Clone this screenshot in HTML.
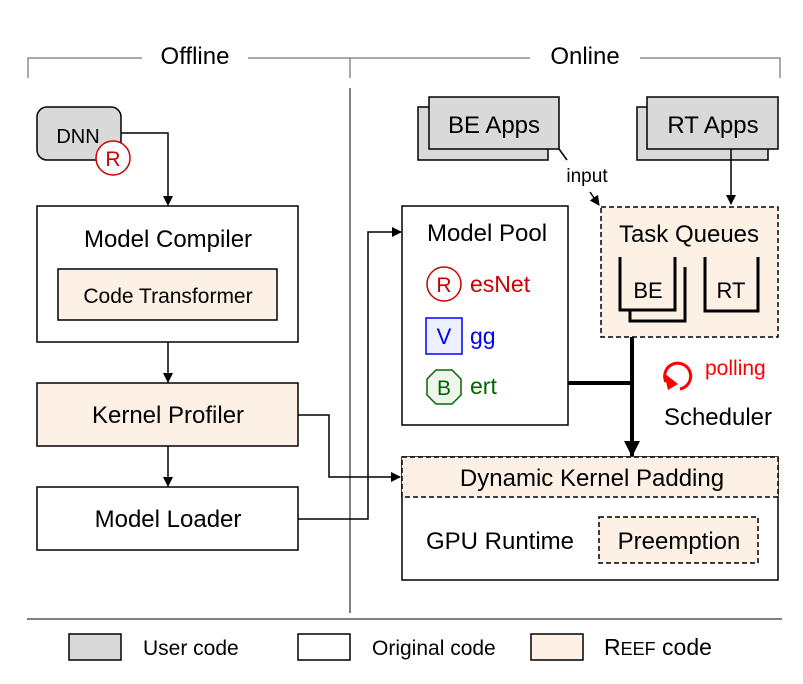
<!DOCTYPE html>
<html><head><style>
html,body{margin:0;padding:0;background:#fff;}
svg{display:block;}
text{font-family:"Liberation Sans","DejaVu Sans",sans-serif;fill:#000;}
</style></head><body>
<svg width="803" height="684" viewBox="0 0 803 684" xmlns="http://www.w3.org/2000/svg">
<defs>
<marker id="a" markerWidth="10" markerHeight="10" refX="9" refY="5" orient="auto" markerUnits="userSpaceOnUse"><path d="M0,0 L10,5 L0,10 z" fill="#000"/></marker>
<marker id="b" markerWidth="16" markerHeight="16" refX="15" refY="8" orient="auto" markerUnits="userSpaceOnUse"><path d="M0,0 L16,8 L0,16 z" fill="#000"/></marker>
</defs>
<!-- header -->
<g stroke="#555" stroke-width="1" fill="none">
<path d="M28,78 V58 H142"/><path d="M248,58 H530"/><path d="M350,58 V78"/><path d="M640,58 H780 V78"/>
<path d="M350,88 V613" stroke="#000"/>
<path d="M27,619 H782" stroke="#000"/>
</g>
<text x="195" y="64" font-size="24" text-anchor="middle">Offline</text>
<text x="585" y="64" font-size="24" text-anchor="middle">Online</text>

<!-- DNN -->
<rect x="37" y="107" width="84" height="53" rx="10" fill="#d9d9d9" stroke="#000" stroke-width="1.5"/>
<text x="78" y="143" font-size="20" text-anchor="middle">DNN</text>
<circle cx="113" cy="158" r="17" fill="#fff" stroke="#c00" stroke-width="1.5"/>
<text x="113" y="166" font-size="21" text-anchor="middle" style="fill:#c00">R</text>
<path d="M121,133 H168 V205" stroke="#000" stroke-width="1.5" fill="none" marker-end="url(#a)"/>

<!-- Offline boxes -->
<rect x="37" y="206" width="261" height="136" fill="#fff" stroke="#000" stroke-width="1.5"/>
<text x="168" y="247" font-size="24" text-anchor="middle">Model Compiler</text>
<rect x="58" y="269" width="219" height="51" fill="#fdf1e6" stroke="#000" stroke-width="1.5"/>
<text x="168" y="303" font-size="21" text-anchor="middle">Code Transformer</text>
<path d="M168,342 V382" stroke="#000" stroke-width="1.5" marker-end="url(#a)"/>
<rect x="37" y="383" width="261" height="63" fill="#fdf1e6" stroke="#000" stroke-width="1.5"/>
<text x="168" y="423" font-size="24" text-anchor="middle">Kernel Profiler</text>
<path d="M168,446 V486" stroke="#000" stroke-width="1.5" marker-end="url(#a)"/>
<rect x="37" y="487" width="261" height="63" fill="#fff" stroke="#000" stroke-width="1.5"/>
<text x="168" y="527" font-size="24" text-anchor="middle">Model Loader</text>
<path d="M298,415 H329 V477 H400" stroke="#000" stroke-width="1.5" fill="none" marker-end="url(#a)"/>
<path d="M298,519 H368 V232 H401" stroke="#000" stroke-width="1.5" fill="none" marker-end="url(#a)"/>

<!-- Apps -->
<rect x="418" y="107" width="130" height="53" fill="#d9d9d9" stroke="#000" stroke-width="1.5"/>
<rect x="429" y="97" width="130" height="52" fill="#d9d9d9" stroke="#000" stroke-width="1.5"/>
<text x="494" y="133" font-size="24" text-anchor="middle">BE Apps</text>
<rect x="637" y="107" width="131" height="53" fill="#d9d9d9" stroke="#000" stroke-width="1.5"/>
<rect x="647" y="97" width="131" height="52" fill="#d9d9d9" stroke="#000" stroke-width="1.5"/>
<text x="713" y="133" font-size="24" text-anchor="middle">RT Apps</text>
<path d="M559,149 L567,160" stroke="#000" stroke-width="1.5"/>
<text x="587" y="182" font-size="19" text-anchor="middle">input</text>
<path d="M590,192 L599,205" stroke="#000" stroke-width="1.5" marker-end="url(#a)"/>
<path d="M731,149 V204" stroke="#000" stroke-width="1.5" marker-end="url(#a)"/>

<!-- Model Pool -->
<rect x="402" y="206" width="166" height="219" fill="#fff" stroke="#000" stroke-width="1.5"/>
<text x="487" y="241" font-size="24" text-anchor="middle">Model Pool</text>
<circle cx="444" cy="284" r="17" fill="#fff" stroke="#c00" stroke-width="1.5"/>
<text x="444" y="292" font-size="21" text-anchor="middle" style="fill:#c00">R</text>
<text x="470" y="292" font-size="23" style="fill:#c00">esNet</text>
<rect x="426" y="318" width="36" height="36" fill="#eef0ff" stroke="#00f" stroke-width="1.5"/>
<text x="444" y="344" font-size="22" text-anchor="middle" style="fill:#00f">V</text>
<text x="470" y="344" font-size="23" style="fill:#00f">gg</text>
<path d="M436,370 H452 L461,379 V395 L452,404 H436 L427,395 V379 Z" fill="#eef5ea" stroke="#060" stroke-width="1.5"/>
<text x="444" y="395" font-size="21" text-anchor="middle" style="fill:#060">B</text>
<text x="470" y="394" font-size="23" style="fill:#060">ert</text>

<!-- Task Queues -->
<rect x="601" y="207" width="177" height="130" fill="#fdf1e6" stroke="#000" stroke-width="1.5" stroke-dasharray="5,3"/>
<text x="689" y="242" font-size="24" text-anchor="middle">Task Queues</text>
<path d="M630,310 V321 H685 V267" stroke="#000" stroke-width="3" fill="none"/>
<path d="M620,257 V310 H675 V257" stroke="#000" stroke-width="3" fill="none"/>
<text x="648" y="298" font-size="22" text-anchor="middle">BE</text>
<path d="M705,257 V311 H758 V257" stroke="#000" stroke-width="3" fill="none"/>
<text x="731" y="298" font-size="22" text-anchor="middle">RT</text>

<!-- thick connectors -->
<path d="M568,383 H632" stroke="#000" stroke-width="4"/>
<path d="M632,337 V456" stroke="#000" stroke-width="4" marker-end="url(#b)"/>
<path d="M666,382 A13,13 0 1 1 680,389" stroke="#f00" stroke-width="3" fill="none"/>
<path d="M664,373 L668,390 L678,384 Z" fill="#f00"/>
<text x="705" y="375" font-size="21" style="fill:#f00">polling</text>
<text x="718" y="425" font-size="24" text-anchor="middle">Scheduler</text>

<!-- GPU runtime -->
<rect x="402" y="457" width="376" height="123" fill="#fff" stroke="#000" stroke-width="1.5"/>
<rect x="402" y="457" width="376" height="40" fill="#fdf1e6" stroke="#000" stroke-width="1.5" stroke-dasharray="5,3"/>
<text x="592" y="486" font-size="24" text-anchor="middle">Dynamic Kernel Padding</text>
<text x="500" y="549" font-size="24" text-anchor="middle">GPU Runtime</text>
<rect x="599" y="517" width="159" height="46" fill="#fdf1e6" stroke="#000" stroke-width="1.5" stroke-dasharray="5,3"/>
<text x="679" y="549" font-size="24" text-anchor="middle">Preemption</text>

<!-- legend -->
<rect x="69" y="634" width="52" height="26" fill="#d9d9d9" stroke="#000" stroke-width="1.5"/>
<text x="143" y="655" font-size="21">User code</text>
<rect x="298" y="634" width="52" height="26" fill="#fff" stroke="#000" stroke-width="1.5"/>
<text x="372" y="655" font-size="21">Original code</text>
<rect x="531" y="634" width="52" height="26" fill="#fdf1e6" stroke="#000" stroke-width="1.5"/>
<text x="604" y="655" font-size="23">R<tspan font-size="18">EEF</tspan> code</text>
</svg>
</body></html>
